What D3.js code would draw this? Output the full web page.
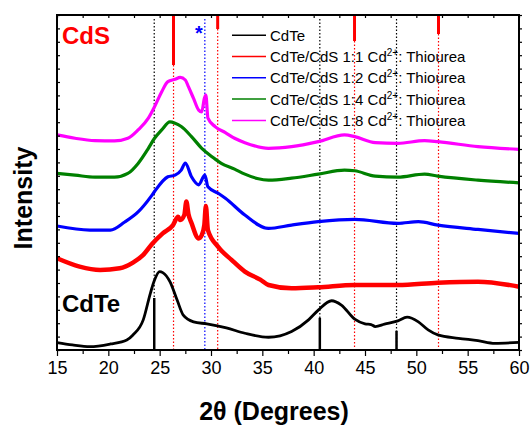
<!DOCTYPE html>
<html>
<head>
<meta charset="utf-8">
<script src="https://cdn.jsdelivr.net/npm/d3@7"></script>
<style>
  body { margin: 0; background: #fff; }
  text { font-family: Arial, "Liberation Sans", sans-serif; }
</style>
</head>
<body>
<svg id="chart" width="531" height="426"></svg>
<script>
// diffraction patterns, [2theta, intensity a.u.]
const cdte = [[15,22],[16.5,15],[18.2,10],[20.2,18],[21.8,30],[22.4,45],[23.4,90],[24.1,170],[24.5,209],[25.0,234],[25.3,231],[26.0,204],[26.7,149],[27.3,104],[28.3,84],[29.6,78],[31.5,66],[33.3,50],[35.6,38],[37.85,55],[39.5,90],[40.45,119],[41.75,147],[42.7,134],[44.0,92],[45.0,78],[45.6,76],[46.0,70],[46.9,77],[48.2,87],[49.1,98],[50.2,84],[51.15,60],[52.1,45],[54.1,35],[56.0,28],[57.65,20],[60,23]];
const ratio11 = [[15,274],[17.2,249],[19.2,239],[21.1,244],[22.4,261],[23.4,284],[24.3,318],[25.3,348],[26.3,373],[26.8,398],[27.0,388],[27.4,403],[27.6,443],[27.8,406],[28.1,379],[28.8,333],[29.1,343],[29.35,373],[29.5,430],[29.7,358],[30.7,308],[32.0,269],[33.3,234],[34.8,210],[35.6,194],[37.85,184],[40.45,187],[44.0,194],[48.2,194],[52.1,201],[56,204],[60,189]];
const ratio12 = [[15,370],[18.2,358],[20.2,358],[21.6,382],[22.9,412],[24.2,460],[24.5,473],[25.8,517],[26.5,522],[27.1,537],[27.5,558],[28.1,517],[28.8,493],[29.4,522],[29.7,487],[30.7,468],[31.4,453],[33.3,403],[35.6,363],[37.85,373],[40.45,383],[44,390],[48.2,378],[50.2,383],[52.1,373],[56,360],[60,348]];
const ratio14 = [[15,527],[16.75,522],[18.7,516],[20.6,516],[21.9,527],[22.9,557],[23.9,602],[24.5,632],[25.2,657],[26.0,681],[26.5,677],[27.1,667],[28.1,637],[29.1,602],[30.1,577],[31.0,557],[32.3,540],[33.3,525],[34.5,512],[35.6,507],[37.85,513],[40.45,525],[43,537],[44,535],[46,519],[48.2,516],[50.8,525],[52.1,519],[56,507],[60,499]];
const ratio18 = [[15,642],[16.75,632],[18.7,625],[20.6,624],[21.9,632],[22.9,657],[23.9,692],[24.5,726],[25.2,771],[25.8,801],[26.5,808],[27.0,814],[27.5,806],[27.8,786],[28.3,751],[28.8,716],[29.1,711],[29.35,751],[29.5,761],[29.7,692],[30.4,667],[31.4,649],[32.3,632],[33.3,619],[35.6,602],[37.85,607],[40.45,622],[43,642],[44,637],[46,619],[48.2,617],[50.8,625],[52.1,622],[56,607],[60,599]];

const seriesNames = ["CdTe", "CdTe/CdS 1:1 Cd", "CdTe/CdS 1:2 Cd", "CdTe/CdS 1:4 Cd", "CdTe/CdS 1:8 Cd"];
const seriesColors = ["#000000", "#ff0000", "#0000ff", "#008000", "#ff00ff"];
const seriesData = [cdte, ratio11, ratio12, ratio14, ratio18];

// reference lines (2theta, relative intensity)
const cdtePeaks = [[24.47,100],[40.6,62],[48.07,37]];
const cdsPeaks = [[26.35,100],[30.65,28],[43.98,52],[52.16,38]];
const impurityPeak = 29.4;

const xTicks = [15,20,25,30,35,40,45,50,55,60];

const svg = d3.select("#chart");
const mLeft = 57, mRight = 519, mTop = 15, mBottom = 350;

const x = d3.scaleLinear().domain([15, 60]).range([mLeft, mRight]);
const y = d3.scaleLinear().domain([0, 1000]).range([mBottom, mTop]);
const stickTop = d3.scaleLinear().domain([0, 100]).range([0, 50]);
const stickBottom = d3.scaleLinear().domain([0, 100]).range([0, 52]);

// dotted guide lines
svg.selectAll(".gblack").data(cdtePeaks).enter().append("line")
  .attr("x1", d => x(d[0])).attr("x2", d => x(d[0]))
  .attr("y1", mTop + 4).attr("y2", mBottom)
  .attr("stroke", "#000").attr("stroke-width", 1.2).attr("stroke-dasharray", "1.5,2");
svg.selectAll(".gred").data(cdsPeaks).enter().append("line")
  .attr("x1", d => x(d[0])).attr("x2", d => x(d[0]))
  .attr("y1", d => mTop + stickTop(d[1])).attr("y2", mBottom)
  .attr("stroke", "#ff0000").attr("stroke-width", 1.2).attr("stroke-dasharray", "1.5,2");
svg.append("line")
  .attr("x1", x(impurityPeak)).attr("x2", x(impurityPeak))
  .attr("y1", mTop + 4).attr("y2", mBottom)
  .attr("stroke", "#0000ff").attr("stroke-width", 1.2).attr("stroke-dasharray", "1.5,2");

// patterns
const line = d3.line().x(d => x(d[0])).y(d => y(d[1])).curve(d3.curveMonotoneX);
const widths = [2.8, 4.5, 3.2, 3.2, 3.2];
seriesData.forEach((s, i) => {
  svg.append("path").datum(s)
    .attr("d", line)
    .attr("fill", "none")
    .attr("stroke", seriesColors[i])
    .attr("stroke-width", widths[i])
    .attr("stroke-linejoin", "round");
});

// stick patterns
svg.selectAll(".sred").data(cdsPeaks).enter().append("line")
  .attr("x1", d => x(d[0])).attr("x2", d => x(d[0]))
  .attr("y1", mTop).attr("y2", d => mTop + stickTop(d[1]))
  .attr("stroke", "#ff0000").attr("stroke-width", 3);
svg.selectAll(".sblack").data(cdtePeaks).enter().append("line")
  .attr("x1", d => x(d[0])).attr("x2", d => x(d[0]))
  .attr("y1", mBottom).attr("y2", d => mBottom - stickBottom(d[1]))
  .attr("stroke", "#000").attr("stroke-width", 2.5);

// axes
const gx = svg.append("g").attr("transform", `translate(0,${mBottom})`)
  .call(d3.axisBottom(x).tickValues(xTicks).tickSize(6).tickPadding(5).tickSizeOuter(0));
gx.selectAll("text").attr("font-size", 18).attr("font-family", "Arial, 'Liberation Sans', sans-serif").attr("fill", "#000");
svg.append("g").attr("transform", `translate(0,${mBottom})`)
  .call(d3.axisBottom(x).tickValues(d3.range(17.5, 60, 5)).tickSize(4).tickFormat("").tickSizeOuter(0));
svg.append("g").attr("transform", `translate(0,${mTop})`)
  .call(d3.axisBottom(x).tickValues(d3.range(15, 60.1, 2.5)).tickSize(3).tickFormat("").tickSizeOuter(0));
svg.append("g").attr("transform", `translate(${mLeft},0)`)
  .call(d3.axisRight(y).tickValues(d3.range(0, 1001, 40)).tickSize(3).tickFormat("").tickSizeOuter(0));
svg.append("g").attr("transform", `translate(${mRight},0)`)
  .call(d3.axisRight(y).tickValues(d3.range(0, 1001, 40)).tickSize(3).tickFormat("").tickSizeOuter(0));
svg.selectAll(".tick line").attr("stroke-width", 1.2);
svg.selectAll(".domain").remove();

svg.append("rect")
  .attr("x", mLeft).attr("y", mTop)
  .attr("width", mRight - mLeft).attr("height", mBottom - mTop)
  .attr("fill", "none").attr("stroke", "#000").attr("stroke-width", 2);

// labels
svg.append("text").attr("x", 62).attr("y", 43.5)
  .attr("font-size", 24).attr("font-weight", "bold").attr("fill", "#ff0000").text("CdS");
svg.append("text").attr("x", 62).attr("y", 311.5)
  .attr("font-size", 24).attr("font-weight", "bold").attr("fill", "#000").text("CdTe");
svg.append("text").attr("x", 199).attr("y", 40)
  .attr("text-anchor", "middle").attr("font-size", 20).attr("font-weight", "bold")
  .attr("fill", "#0000ff").text("*");

svg.append("text")
  .attr("transform", `translate(31.5,198) rotate(-90)`)
  .attr("text-anchor", "middle").attr("font-size", 25).attr("font-weight", "bold")
  .text("Intensity");
svg.append("text").attr("x", 274).attr("y", 420)
  .attr("text-anchor", "middle").attr("font-size", 25).attr("font-weight", "bold")
  .text("2\u03b8 (Degrees)");

// legend
const legend = svg.append("g");
seriesNames.forEach((name, i) => {
  const by = 40.7 + i * 21.3;
  legend.append("line").attr("x1", 232).attr("x2", 266)
    .attr("y1", by - 5.5).attr("y2", by - 5.5)
    .attr("stroke", seriesColors[i]).attr("stroke-width", 1.5);
  const t = legend.append("text").attr("x", 270).attr("y", by).attr("font-size", 15).attr("fill", "#000");
  t.append("tspan").text(name);
  if (i > 0) {
    t.append("tspan").attr("dy", -6).attr("font-size", 10).text("2+");
    t.append("tspan").attr("dy", 6).text(": Thiourea");
  }
});
</script>
</body>
</html>
